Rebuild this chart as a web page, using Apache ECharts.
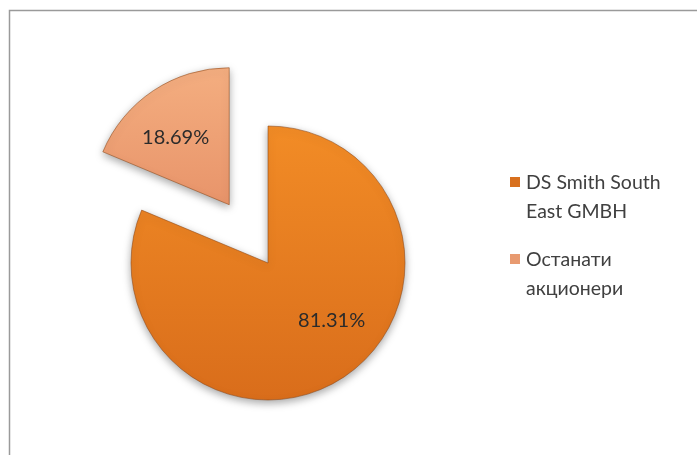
<!DOCTYPE html>
<html>
<head>
<meta charset="utf-8">
<script src="https://cdn.jsdelivr.net/npm/echarts@6/dist/echarts.min.js"></script>
<style>html,body{margin:0;padding:0;background:#fff}#c{width:697px;height:455px}</style>
</head>
<body>
<div id="c"></div>
<script>
const categories = ['DS Smith South East GMBH', 'Останати акционери'];
const legendLines = [['DS Smith South', 'East GMBH'], ['Останати', 'акционери']];
const values = [81.31, 18.69];
const labelTexts = ['81.31%', '18.69%'];

const chart = echarts.init(document.getElementById('c'));
const fills = [
  new echarts.graphic.LinearGradient(0, 0, 0, 1, [{offset: 0, color: '#F28C26'}, {offset: 1, color: '#D96D1B'}]),
  new echarts.graphic.LinearGradient(0, 0, 0, 1, [{offset: 0, color: '#F4AE80'}, {offset: 1, color: '#E8946A'}])
];
const legendColors = ['#D8701E', '#E89A70'];
const labelShift = [[24, -2], [-14, -8]];
chart.setOption({
  animation: false,
  graphic: [{
    type: 'rect', left: 7, top: 8, z: -10,
    shape: {x: 0, y: 0, width: 720, height: 480},
    style: {fill: 'none', stroke: '#9a9a9a', lineWidth: 1.5}
  }],
  legend: {
    orient: 'vertical', left: 505, top: 163,
    icon: 'path://M0,0h10v10h-10z M0,40h10v0h-10z', itemWidth: 10, itemHeight: 40, itemGap: 19,
    selectedMode: false,
    data: categories.map((c, i) => ({name: c, itemStyle: {color: legendColors[i], borderWidth: 0}})),
    formatter: function (name) {
      const i = categories.indexOf(name);
      return legendLines[i].join('\n');
    },
    textStyle: {fontFamily: 'Lato', fontSize: 19.5, color: '#404040', lineHeight: 29, padding: [0, 0, 0, 1]}
  },
  series: [{
    type: 'pie', center: [268, 263], radius: 137, startAngle: 90, clockwise: true,
    selectedMode: 'single', selectedOffset: 70,
    data: categories.map((c, i) => ({
      name: c, value: values[i], selected: i === 1,
      itemStyle: {color: fills[i]}
    })),
    itemStyle: {borderColor: 'rgba(140,70,20,0.55)', borderWidth: 1, shadowBlur: 8, shadowColor: 'rgba(0,0,0,0.35)', shadowOffsetY: 3},
    label: {
      position: 'inside', fontFamily: 'Lato', fontSize: 20, color: '#2b2b2b',
      formatter: p => labelTexts[p.dataIndex]
    },
    labelLayout: p => ({dx: labelShift[p.dataIndex][0], dy: labelShift[p.dataIndex][1]}),
    emphasis: {disabled: true}
  }]
});
</script>
</body>
</html>
